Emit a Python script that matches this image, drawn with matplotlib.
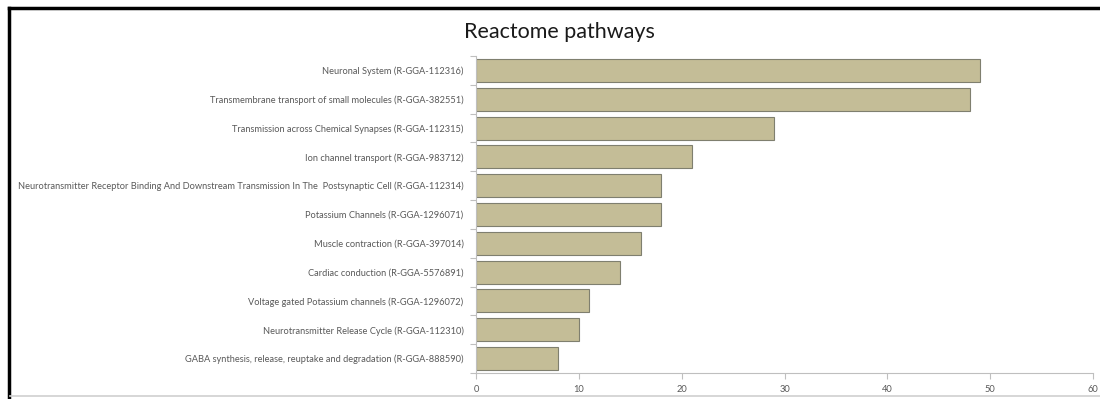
import matplotlib
matplotlib.use("Agg")
import matplotlib.pyplot as plt
from matplotlib.patches import Rectangle
from matplotlib.lines import Line2D
import numpy as np

categories = [
    "Neuronal System (R-GGA-112316)",
    "Transmembrane transport of small molecules (R-GGA-382551)",
    "Transmission across Chemical Synapses (R-GGA-112315)",
    "Ion channel transport (R-GGA-983712)",
    "Neurotransmitter Receptor Binding And Downstream Transmission In The  Postsynaptic Cell (R-GGA-112314)",
    "Potassium Channels (R-GGA-1296071)",
    "Muscle contraction (R-GGA-397014)",
    "Cardiac conduction (R-GGA-5576891)",
    "Voltage gated Potassium channels (R-GGA-1296072)",
    "Neurotransmitter Release Cycle (R-GGA-112310)",
    "GABA synthesis, release, reuptake and degradation (R-GGA-888590)",
]
values = [49, 48, 29, 21, 18, 18, 16, 14, 11, 10, 8]
xticks = [0, 10, 20, 30, 40, 50, 60]
title = "Reactome pathways"

plt.rcParams['font.family'] = ['Lato', 'DejaVu Sans']

fig = plt.figure(figsize=(11, 3.99), dpi=100)
fig.patch.set_facecolor('white')

# outer frame: black top and left, light grey bottom
fig.add_artist(Line2D([9/1100, 1.0], [1 - 8/399, 1 - 8/399], transform=fig.transFigure,
                      color='black', linewidth=2.5))
fig.add_artist(Line2D([9/1100, 9/1100], [0, 1 - 8/399], transform=fig.transFigure,
                      color='black', linewidth=2.5))
fig.add_artist(Line2D([10/1100, 1.0], [1 - 396/399, 1 - 396/399], transform=fig.transFigure,
                      color='#cfcfcf', linewidth=1.2))

ax = fig.add_axes([476/1100, 1 - 373/399, (1093 - 476)/1100, (373 - 56)/399])
y = np.arange(len(categories))
ax.barh(y, values, height=0.8, color='#C4BD97', edgecolor='#7f7f6f', linewidth=0.8)
ax.set_ylim(len(categories) - 0.5, -0.5)
ax.set_xlim(0, 60)
ax.set_yticks(y)
ax.set_yticklabels(categories, fontsize=6.7, color='#595959')
ax.set_yticks(np.arange(-0.5, len(categories) + 0.5, 1), minor=True)
ax.tick_params(axis='y', which='major', length=0, pad=9)
ax.tick_params(axis='y', which='minor', length=4, color='#bfbfbf', width=0.8, direction='out')
ax.set_xticks(xticks)
ax.set_xticklabels([str(t) for t in xticks], fontsize=6.7, color='#595959')
ax.tick_params(axis='x', length=4, color='#bfbfbf', width=0.8, direction='out', pad=5)
for s in ['top', 'right']:
    ax.spines[s].set_visible(False)
for s in ['left', 'bottom']:
    ax.spines[s].set_color('#bfbfbf')
    ax.spines[s].set_linewidth(0.8)

fig.text(559/1100, 1 - 32/399, title, ha='center', va='center', fontsize=15.5, color='#1a1a1a')

fig.savefig('out.png', dpi=100)
